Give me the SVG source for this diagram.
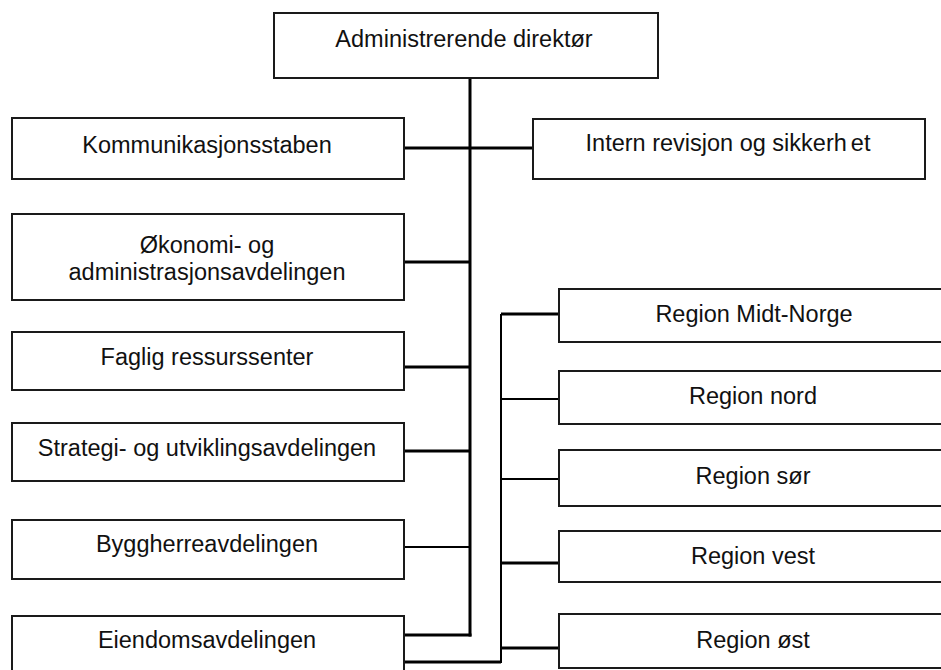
<svg xmlns="http://www.w3.org/2000/svg" width="941" height="670" viewBox="0 0 941 670">
<style>
.box{fill:#fff;stroke:#1a1a1a;stroke-width:2}
.t{font-family:"Liberation Sans",Arial,sans-serif;font-size:23.5px;fill:#111;text-anchor:middle}
.c{fill:none;stroke:#000;stroke-width:3}
.c2{fill:none;stroke:#000;stroke-width:2}
</style>
<rect width="941" height="670" fill="#fff"/>
<g id="connectors">
<path class="c" d="M470 78V636.5"/>
<path class="c" d="M404 148H533"/>
<path class="c" d="M404 262H470"/>
<path class="c" d="M404 367H470"/>
<path class="c" d="M404 451H470"/>
<path class="c2" d="M404 547H470"/>
<path class="c" d="M404 635H471.5"/>
<path class="c" d="M404 662H501"/>
<path class="c2" d="M501 663V314"/>
<path class="c" d="M501 314H559"/>
<path class="c2" d="M501 399H559"/>
<path class="c2" d="M501 479H559"/>
<path class="c" d="M501 563H559"/>
<path class="c" d="M501 648H559"/>
</g>
<g id="n-adm"><rect class="box" x="274" y="13" width="384" height="65"/><text class="t" x="464" y="46.5">Administrerende direktør</text></g>
<g id="n-komm"><rect class="box" x="12" y="118" width="392" height="61"/><text class="t" x="207" y="152.5">Kommunikasjonsstaben</text></g>
<g id="n-intern"><rect class="box" x="533" y="119" width="392" height="60"/><text class="t" x="728" y="151">Intern revisjon og sikkerh<tspan dx="4">et</tspan></text></g>
<g id="n-okonomi"><rect class="box" x="12" y="214" width="392" height="86"/><text class="t" x="207" y="253">Økonomi- og</text><text class="t" x="207" y="280">administrasjonsavdelingen</text></g>
<g id="n-faglig"><rect class="box" x="12" y="332" width="392" height="58"/><text class="t" x="207" y="365">Faglig ressurssenter</text></g>
<g id="n-strategi"><rect class="box" x="12" y="423" width="392" height="58"/><text class="t" x="207" y="456">Strategi- og utviklingsavdelingen</text></g>
<g id="n-bygg"><rect class="box" x="12" y="520" width="392" height="59"/><text class="t" x="207" y="552">Byggherreavdelingen</text></g>
<g id="n-eiendom"><rect class="box" x="12" y="616" width="392" height="70"/><text class="t" x="207" y="648">Eiendomsavdelingen</text></g>
<g id="n-midt"><rect class="box" x="559" y="289" width="400" height="53"/><text class="t" x="754" y="322">Region Midt-Norge</text></g>
<g id="n-nord"><rect class="box" x="559" y="371" width="400" height="53"/><text class="t" x="753" y="404">Region nord</text></g>
<g id="n-sor"><rect class="box" x="559" y="450" width="400" height="56"/><text class="t" x="753" y="484">Region sør</text></g>
<g id="n-vest"><rect class="box" x="559" y="531" width="400" height="51"/><text class="t" x="753" y="564">Region vest</text></g>
<g id="n-ost"><rect class="box" x="559" y="614" width="400" height="54"/><text class="t" x="753" y="648">Region øst</text></g>
</svg>
